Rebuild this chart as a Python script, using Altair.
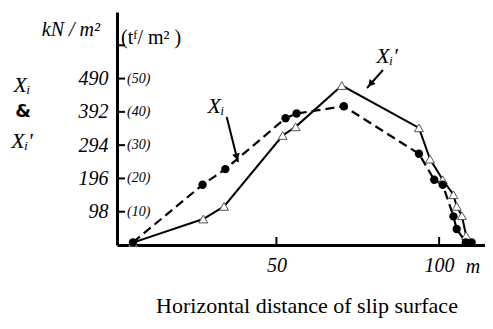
import altair as alt
import pandas as pd

# ---- data ----
xi_x = [5.9, 27.3, 34.3, 52.8, 56.2, 70.7, 93.8, 98.5, 101.1, 104.4, 105.4, 108.2, 110.0]
xi_y = [0.8, 18.1, 22.8, 38.1, 39.5, 41.7, 27.4, 19.6, 18.1, 8.6, 4.8, 0.8, 0.8]

xip_x = [5.9, 27.5, 33.9, 51.9, 55.9, 70.1, 93.8, 97.2, 101.1, 104.4, 105.4, 107.0, 108.3]
xip_y = [0.7, 7.8, 11.6, 32.9, 35.5, 47.9, 35.2, 25.8, 19.6, 15.1, 11.6, 8.8, 2.8]

y_tick_values = [10, 20, 30, 40, 50, 60]
kn_values = [10, 20, 30, 40, 50]
kn_labels = ["98", "196", "294", "392", "490"]
tf_labels = ["(10)", "(20)", "(30)", "(40)", "(50)"]
x_tick_values = [50, 100]

SERIF = "Liberation Serif"
W, H = 368, 233

xscale = alt.Scale(domain=[1, 114.1], nice=False, zero=False)
yscale = alt.Scale(domain=[0, 70], nice=False)

xi_df = pd.DataFrame({"x": xi_x, "y": xi_y, "i": range(len(xi_x))})
xip_df = pd.DataFrame({"x": xip_x, "y": xip_y, "i": range(len(xip_x))})

label_expr = " : ".join(
    f"datum.value == {v} ? '{l}'" for v, l in zip(kn_values, kn_labels)
) + " : ''"

xenc = alt.X("x:Q", scale=xscale, axis=alt.Axis(
    values=x_tick_values, ticks=False, grid=False, domain=True,
    domainColor="black", domainWidth=3, labelFont=SERIF, labelFontStyle="italic",
    labelFontSize=20, labelColor="black", labelPadding=10, title=None))
yenc = alt.Y("y:Q", scale=yscale, axis=alt.Axis(
    values=kn_values, ticks=False, grid=False, domain=True,
    domainColor="black", domainWidth=3, labelFont=SERIF, labelFontStyle="italic",
    labelFontSize=20, labelColor="black", labelPadding=9, labelExpr=label_expr,
    title=None))

line_xip = alt.Chart(xip_df).mark_line(color="black", strokeWidth=2).encode(
    x=xenc, y=yenc, order="i:Q")
line_xi = alt.Chart(xi_df).mark_line(color="black", strokeWidth=2.2, strokeDash=[9, 5]).encode(
    x=alt.X("x:Q", scale=xscale), y=alt.Y("y:Q", scale=yscale), order="i:Q")
pts_xip = alt.Chart(xip_df).mark_point(shape="triangle-up", size=80, filled=True, opacity=1,
                                       fill="white", stroke="#555", strokeWidth=1).encode(
    x=alt.X("x:Q", scale=xscale), y=alt.Y("y:Q", scale=yscale))
pts_xi = alt.Chart(xi_df).mark_point(shape="circle", size=70, filled=True, opacity=1,
                                     color="black").encode(
    x=alt.X("x:Q", scale=xscale), y=alt.Y("y:Q", scale=yscale))

ytick_df = pd.DataFrame({"y": y_tick_values})
yticks = alt.Chart(ytick_df).mark_rule(color="black", strokeWidth=2).encode(
    x=alt.value(0), x2=alt.value(8), y=alt.Y("y:Q", scale=yscale))
tf_df = pd.DataFrame({"y": kn_values, "t": tf_labels})
tf_text = alt.Chart(tf_df).mark_text(font=SERIF, fontStyle="italic", fontSize=14,
                                     align="left", baseline="middle", color="black").encode(
    x=alt.value(10), y=alt.Y("y:Q", scale=yscale), text="t:N")
xtick_df = pd.DataFrame({"x": x_tick_values})
xticks = alt.Chart(xtick_df).mark_rule(color="black", strokeWidth=2).encode(
    x=alt.X("x:Q", scale=xscale), y=alt.value(H), y2=alt.value(H - 8))


def txt(t, x, y, size=20, style="italic", weight="normal", align="center", font=SERIF):
    return alt.Chart(pd.DataFrame({"t": [t]})).mark_text(
        font=font, fontSize=size, fontStyle=style, fontWeight=weight, align=align,
        baseline="middle", color="black").encode(
        text="t:N", x=alt.value(x), y=alt.value(y))


def arrow(x1, y1, x2, y2, hx, hy, ang):
    r = alt.Chart(pd.DataFrame({"a": [0]})).mark_rule(color="black", strokeWidth=2).encode(
        x=alt.value(x1), y=alt.value(y1), x2=alt.value(x2), y2=alt.value(y2))
    h = alt.Chart(pd.DataFrame({"a": [0]})).mark_point(
        shape="triangle-down", filled=True, color="black", size=60, angle=ang, opacity=1).encode(
        x=alt.value(hx), y=alt.value(hy))
    return r + h


texts = [
    txt("kN / m²", -17, 18, size=20, align="right"),
    txt("(tᶠ/ m² )", 4, 26, size=20, style="normal", align="left"),
    txt("Xᵢ", -95, 73, size=22),
    txt("&", -94, 100, size=18, style="normal", weight="bold", font="DejaVu Sans"),
    txt("Xᵢ'", -95, 129, size=22),
    txt("Xᵢ", 99, 94, size=22),
    txt("Xᵢ'", 270, 44, size=22),
    txt("m", 356, 255, size=20),
    txt("Horizontal distance of slip surface", 190, 294, size=22, style="normal"),
]

chart = alt.layer(
    line_xip, line_xi, pts_xip, pts_xi, yticks, tf_text, xticks,
    arrow(109.7, 105, 121, 150, 119.8, 145, 346),
    arrow(266, 58, 250, 76, 253.5, 72, 40),
    *texts,
).properties(
    width=W, height=H,
    autosize=alt.AutoSizeParams(type="none"),
    padding={"left": 109, "top": 4, "right": 0, "bottom": 76},
).configure_view(strokeWidth=0)

chart.save("out.html", embed_options={"renderer": "svg", "actions": False})
